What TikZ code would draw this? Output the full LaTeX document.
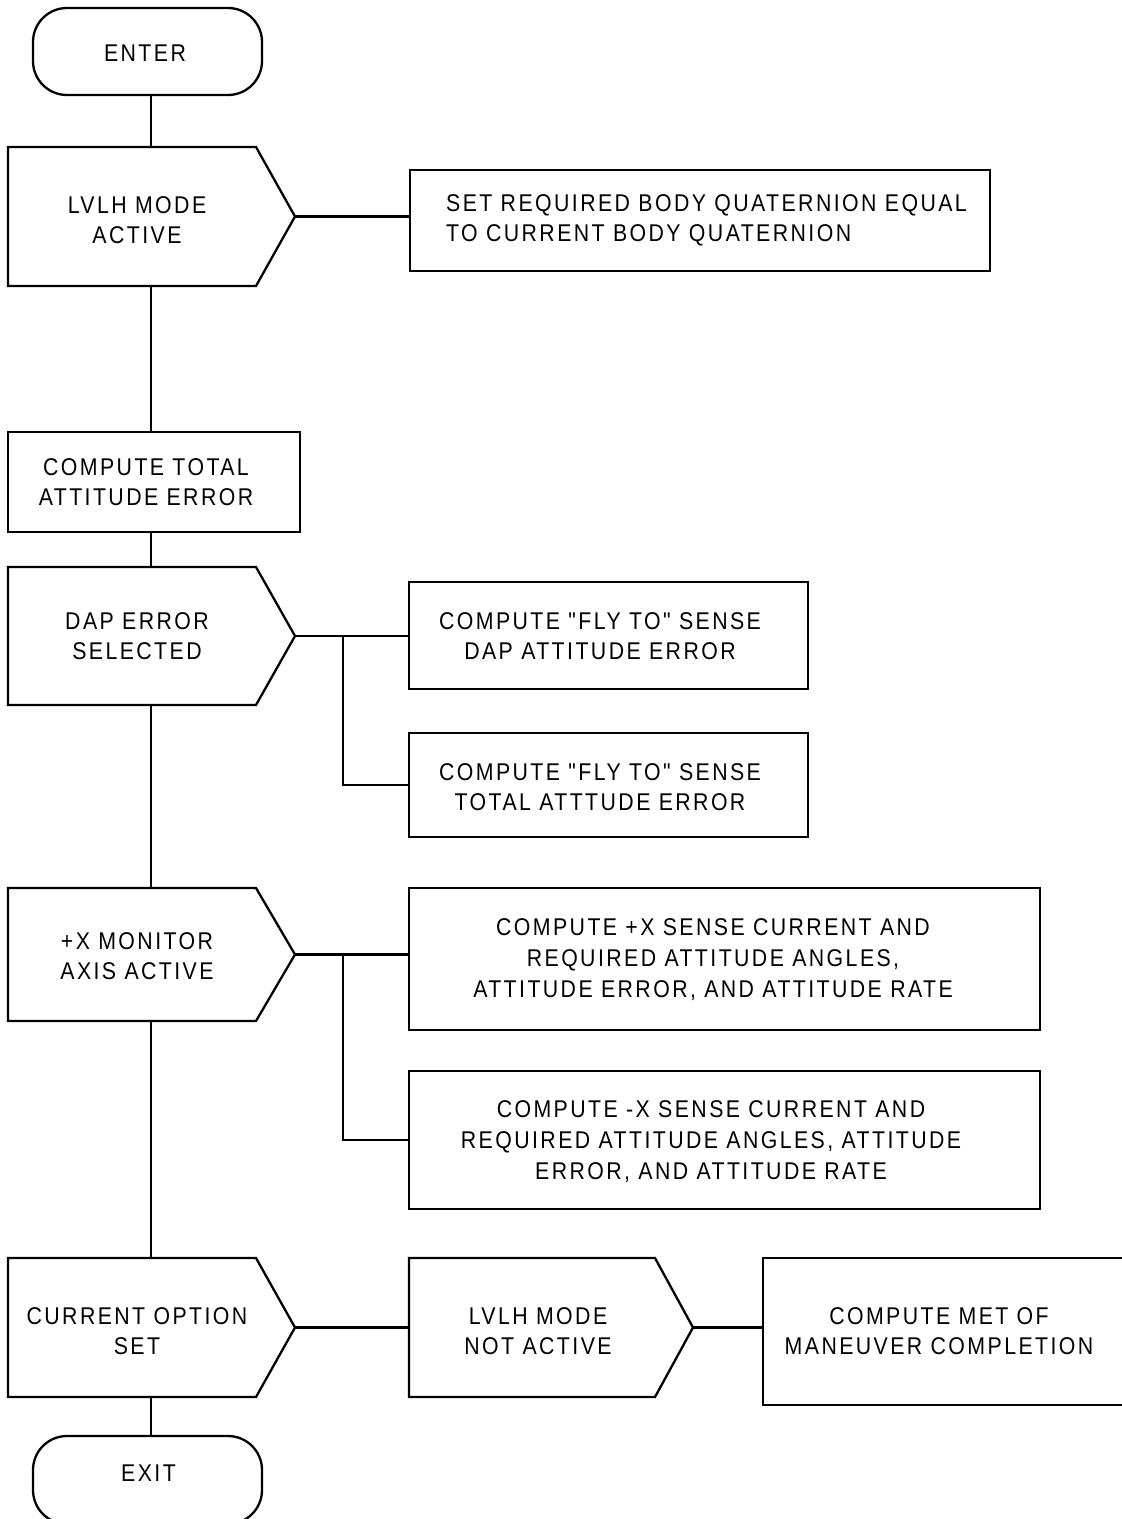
\documentclass[tikz,border=0pt]{standalone}
\usepackage{fontspec}
\setmainfont{Liberation Sans}[FakeStretch=0.88,LetterSpace=10,Ligatures=TeXOff]
\begin{document}
\begin{tikzpicture}[x={(0.5pt,0)},y={(0,-0.5pt)},line width=1.15pt,
  txt/.style={font=\fontsize{12.1}{15.3}\selectfont,align=center,inner sep=0pt},
  box/.style={draw,rectangle,inner sep=0pt,line join=miter},
  term/.style={draw,rectangle,rounded corners=17pt,inner sep=0pt},
  shp/.style={draw,line join=miter}]
\useasboundingbox (0,0) rectangle (1122,1519);
\clip (0,0) rectangle (1122,1519);

% terminals
\node[term,minimum width=114.5pt,minimum height=43.5pt] (enter) at (147.5,51.5) {};
\node[txt] (tenter) at (145,53) {ENTER};
\node[term,minimum width=114.5pt,minimum height=44pt] (exit) at (147.5,1480) {};
\node[txt] (texit) at (148.5,1473) {EXIT};

% pentagon decisions
\draw[shp] (8,147) -- (256,147) -- (295,216.5) -- (256,286) -- (8,286) -- cycle;
\coordinate (p1n) at (151,147); \coordinate (p1s) at (151,286); \coordinate (p1t) at (295,216.5);
\node[txt] (t1) at (137,220) {LVLH MODE\\ACTIVE};

\draw[shp] (8,567) -- (256,567) -- (295,636) -- (256,705) -- (8,705) -- cycle;
\coordinate (p2n) at (151,567); \coordinate (p2s) at (151,705); \coordinate (p2t) at (295,636);
\node[txt] (t2) at (137,636) {DAP ERROR\\SELECTED};

\draw[shp] (8,888) -- (256,888) -- (295,954.5) -- (256,1021) -- (8,1021) -- cycle;
\coordinate (p3n) at (151,888); \coordinate (p3s) at (151,1021); \coordinate (p3t) at (295,954.5);
\node[txt] (t3) at (137,956) {+X MONITOR\\AXIS ACTIVE};

\draw[shp] (8,1258) -- (256,1258) -- (295,1327.5) -- (256,1397) -- (8,1397) -- cycle;
\coordinate (p4n) at (151,1258); \coordinate (p4s) at (151,1397); \coordinate (p4t) at (295,1327.5);
\node[txt] (t4) at (137,1331) {CURRENT OPTION\\SET};

\draw[shp] (409,1258) -- (655,1258) -- (693,1327.5) -- (655,1397) -- (409,1397) -- cycle;
\coordinate (p5w) at (409,1327.5); \coordinate (p5t) at (693,1327.5);
\node[txt] (t5) at (538,1331) {LVLH MODE\\NOT ACTIVE};

% rectangles
\node[box,minimum width=290pt,minimum height=50.5pt] (r1) at (700,220.5) {};
\node[txt,align=left,anchor=west] (tr1) at (445,220.5) {SET REQUIRED BODY QUATERNION EQUAL\\TO CURRENT BODY QUATERNION};

\node[box,minimum width=146pt,minimum height=50pt] (r2) at (154,482) {};
\node[txt] (tr2) at (146,482) {COMPUTE TOTAL\\ATTITUDE ERROR};

\node[box,minimum width=199.5pt,minimum height=53.5pt] (r3) at (608.5,635.5) {};
\node[txt] (tr3) at (600,636) {COMPUTE "FLY TO" SENSE\\DAP ATTITUDE ERROR};

\node[box,minimum width=199.5pt,minimum height=52pt] (r4) at (608.5,785) {};
\node[txt] (tr4) at (600,787) {COMPUTE "FLY TO" SENSE\\TOTAL ATTTUDE ERROR};

\node[box,minimum width=315.5pt,minimum height=71pt] (r5) at (724.5,959) {};
\node[txt] (tr5) at (713,959.5) {COMPUTE +X SENSE CURRENT AND\\REQUIRED ATTITUDE ANGLES,\\ATTITUDE ERROR, AND ATTITUDE RATE};

\node[box,minimum width=315.5pt,minimum height=69pt] (r6) at (724.5,1140) {};
\node[txt] (tr6) at (711,1141.5) {COMPUTE -X SENSE CURRENT AND\\REQUIRED ATTITUDE ANGLES, ATTITUDE\\ERROR, AND ATTITUDE RATE};

\node[box,minimum width=190pt,minimum height=73.5pt] (r7) at (953,1331.5) {};
\node[txt] (tr7) at (939,1331) {COMPUTE MET OF\\MANEUVER COMPLETION};

% connectors
\draw (p1n |- enter.south) -- (p1n);
\draw (p1t) -- (p1t -| r1.west);
\draw (p1s) -- (p1s |- r2.north);
\draw (p2n |- r2.south) -- (p2n);
\draw (p2t) -- (p2t -| r3.west);
\coordinate (b1) at (343,636);
\draw (b1) |- (r4.west);
\draw (p2s) -- (p3n);
\draw (p3t) -- (p3t -| r5.west);
\coordinate (b2) at (343,954.5);
\draw (b2) |- (r6.west);
\draw (p3s) -- (p4n);
\draw (p4t) -- (p5w);
\draw (p5t) -- (p5t -| r7.west);
\draw (p4s) -- (p4s |- exit.north);
\end{tikzpicture}
\end{document}
